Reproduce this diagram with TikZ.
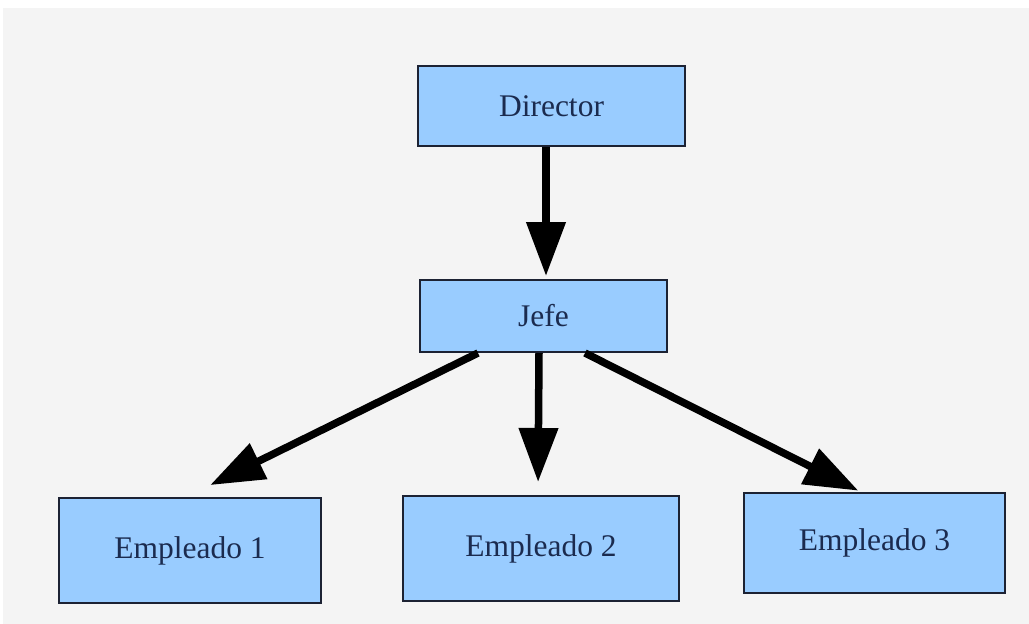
\documentclass[tikz,border=0pt]{standalone}
\usepackage{fontspec}
\setmainfont{Liberation Serif}
\usetikzlibrary{arrows.meta}
\definecolor{boxblue}{HTML}{99CCFF}
\definecolor{boxedge}{HTML}{1C2233}
\definecolor{labelnavy}{HTML}{1B2B4F}
\definecolor{canvas}{HTML}{F4F4F4}
\tikzset{
  orgbox/.style={rectangle, fill=boxblue, draw=boxedge, line width=2pt,
    text=labelnavy, font=\fontsize{31.5}{37}\selectfont, inner sep=0pt},
  link/.style={line width=7.5pt, black,
    -{Triangle[length=54pt,width=38pt]}},
}
\begin{document}
\begin{tikzpicture}[x=1pt,y=-1pt]
  % canvas with a thin white strip along the top and left
  \fill[white] (0,0) rectangle (1029,624);
  \fill[canvas] (3,8) rectangle (1029,624);
  \useasboundingbox (0,0) rectangle (1029,624);

  % hierarchy boxes
  \node[orgbox, minimum width=267pt, minimum height=80pt] (dir) at (551.5,106) {Director};
  \node[orgbox, minimum width=247pt, minimum height=72pt] (jefe) at (543.5,316) {Jefe};
  \node[orgbox, minimum width=262pt, minimum height=105pt] (e1) at (190,550.5) {Empleado 1};
  \node[orgbox, minimum width=276pt, minimum height=105pt] (e2) at (541,548.5) {Empleado 2};
  \node[orgbox, minimum width=261pt, minimum height=100pt] (e3) at (874.5,543) {Empleado 3};

  % reporting lines
  \draw[link, shorten >=3pt] ([xshift=-5.5pt]dir.south) -- ([xshift=2.5pt]jefe.north);
  \draw[link, shorten >=13pt] ([xshift=-4.5pt]jefe.south) -- ([xshift=-3pt]e2.north);
  \draw[link, shorten >=27pt] ([xshift=-65.5pt]jefe.south) -- ([xshift=-4pt]e1.north);
  \draw[link, shorten >=3pt] ([xshift=41.5pt]jefe.south) -- ([xshift=-13.5pt]e3.north);
\end{tikzpicture}
\end{document}
